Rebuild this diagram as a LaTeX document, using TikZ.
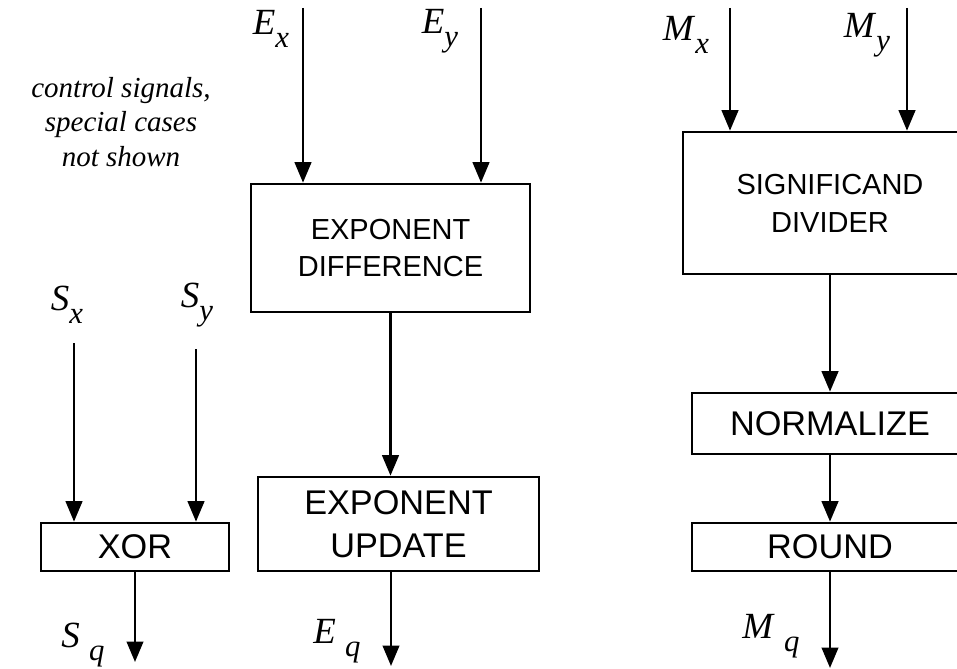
\documentclass[tikz,border=0pt]{standalone}
\usepackage{fontspec}
\setmainfont{Liberation Serif}
\setsansfont{Liberation Sans}
\usetikzlibrary{arrows.meta}

% operand name with a lowered index
\newcommand{\opnd}[3][0pt]{\textit{#2}\hspace{#1}\raisebox{-0.36em}{\fontsize{17.5}{17.5}\selectfont\textit{#3}}}

\begin{document}
\begin{tikzpicture}[x=0.02cm, y=-0.02cm, >={Triangle[width=0.33cm,length=0.41cm]},
  unit/.style={draw, line width=1.5pt, align=center, inner sep=0pt,
    font=\sffamily\fontsize{19.5}{24.5}\selectfont},
  bigunit/.style={unit, font=\sffamily\fontsize{16.5}{21.5}\selectfont},
  sig/.style={->, line width=1.5pt},
  lbl/.style={inner sep=0pt, font=\fontsize{21}{24}\selectfont}]
\clip (0,0) rectangle (957,669);

% units
\node[bigunit, minimum width=5.58cm, minimum height=2.56cm] (ediff) at (390.5,248) {EXPONENT\\DIFFERENCE};
\node[bigunit, minimum width=5.88cm, minimum height=2.84cm] (sdiv) at (830,203) {SIGNIFICAND\\DIVIDER};
\node[unit, minimum width=5.52cm, minimum height=1.22cm] (norm) at (830,423.5) {NORMALIZE};
\node[unit, minimum width=5.52cm, minimum height=0.96cm] (round) at (830,547) {ROUND};
\node[unit, minimum width=3.76cm, minimum height=0.96cm] (xor) at (135,547) {XOR};
\node[unit, minimum width=5.62cm, minimum height=1.88cm] (eupd) at (398.5,524) {EXPONENT\\UPDATE};

% inputs
\coordinate (ex) at (303,8);
\coordinate (ey) at (481,8);
\coordinate (mx) at (730,8);
\coordinate (my) at (907,8);
\coordinate (sx) at (74,343);
\coordinate (sy) at (196,349);
\draw[sig] (ex) -- (ex |- ediff.north);
\draw[sig] (ey) -- (ey |- ediff.north);
\draw[sig] (mx) -- (mx |- sdiv.north);
\draw[sig] (my) -- (my |- sdiv.north);
\draw[sig] (sx) -- (sx |- xor.north);
\draw[sig] (sy) -- (sy |- xor.north);

% between units
\draw[sig] (ediff.south) -- (ediff.south |- eupd.north);
\draw[sig] (sdiv.south) -- (norm.north);
\draw[sig] (norm.south) -- (round.north);

% outputs
\coordinate (sq) at (135,662);
\coordinate (eq) at (391,666);
\coordinate (mq) at (830,668);
\draw[sig] (xor.south) -- (sq);
\draw[sig] (eq |- eupd.south) -- (eq);
\draw[sig] (round.south) -- (mq);

% labels
\node[lbl] (lex) at (271,29) {\opnd{E}{x}};
\node[lbl] (ley) at (440,31) {\opnd{E}{y}};
\node[lbl] (lmx) at (686,35) {\opnd{M}{x}};
\node[lbl] (lmy) at (867,35) {\opnd{M}{y}};
\node[lbl] (lsx) at (67,305) {\opnd{S}{x}};
\node[lbl] (lsy) at (197,305) {\opnd{S}{y}};
\node[lbl] (lsq) at (83,645) {\opnd[0.25em]{S}{q}};
\node[lbl] (leq) at (337,641) {\opnd[0.25em]{E}{q}};
\node[lbl] (lmq) at (771,636) {\opnd[0.25em]{M}{q}};
\node[align=center, font=\itshape\fontsize{16.5}{19.6}\selectfont] (note) at (121,122) {control signals,\\special cases\\not shown};
\end{tikzpicture}
\end{document}
